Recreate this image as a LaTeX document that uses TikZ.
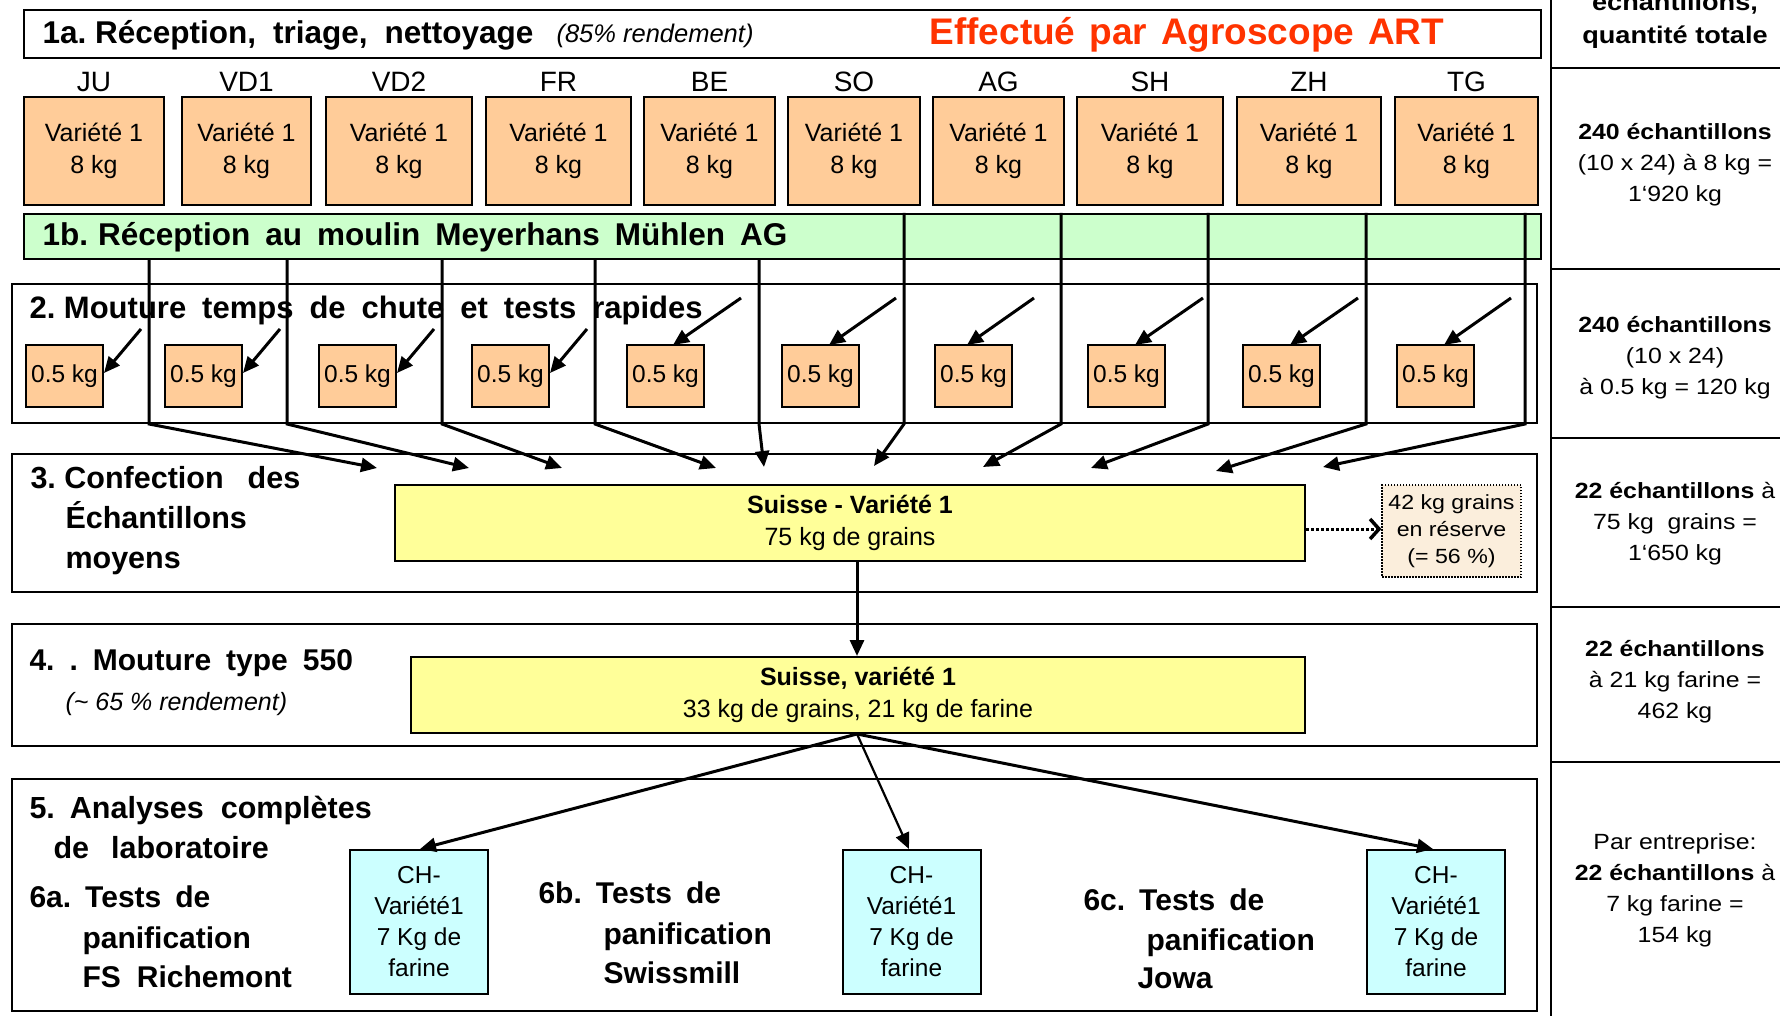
\documentclass[tikz,border=0pt]{standalone}
\usepackage{fontspec}
\setmainfont{Liberation Sans}
\newfontfamily\rfont{Liberation Sans}[WordSpace=1.36]
\newfontfamily\wfont{Liberation Sans}[FakeStretch=1.13]
\usetikzlibrary{arrows.meta}
\definecolor{orangeF}{HTML}{FFCC99}
\definecolor{greenF}{HTML}{CCFFCC}
\definecolor{yellowF}{HTML}{FFFF99}
\definecolor{cyanF}{HTML}{CCFFFF}
\definecolor{resF}{HTML}{FBEEDC}
\definecolor{redT}{HTML}{FF3300}
\newcommand\fsz[2]{\fontsize{#1}{#2}\selectfont}
\newcommand\mygap[1]{\hspace{#1pt}}
\begin{document}
\frenchspacing
\begin{tikzpicture}[x=1pt,y=-1pt,
  sect/.style={draw, line width=2pt, fill=white, inner sep=0pt, anchor=north west},
  obox/.style={draw, line width=2pt, fill=orangeF, inner sep=0pt, minimum height=108, align=center, font=\fsz{25}{32}},
  sbox/.style={draw, line width=1.8pt, fill=orangeF, inner sep=0pt, minimum width=77, minimum height=62, font=\fsz{24.5}{30}},
  ybox/.style={draw, line width=2pt, fill=yellowF, inner sep=0pt, minimum height=76, align=center, font=\fsz{25}{32}},
  cbox/.style={draw, line width=2pt, fill=cyanF, inner sep=0pt, minimum width=138, minimum height=144, align=center, font=\fsz{24.5}{31}},
  lab/.style={anchor=base, font=\fsz{28}{32}},
  ttl/.style={anchor=base west, font=\bfseries\fsz{30}{40}},
  rcol/.style={align=center, font=\wfont\fsz{22}{31}},
  carr/.style={line width=3pt, -{Triangle[length=16pt,width=14pt]}},
  sarr/.style={line width=3pt, -{Triangle[length=16pt,width=14pt]}},
]
\useasboundingbox (0,0) rectangle (1780,1016);
\clip (0,0) rectangle (1780,1016);
\fill[white] (0,0) rectangle (1780,1016);

% ---------- right column ----------
\draw[line width=2pt] (1551,0) -- (1551,1016);
\foreach \yy in {68,269,438,607,762} \draw[line width=2pt] (1551,\yy) -- (1780,\yy);
\node[anchor=base, font=\wfont\bfseries\fsz{24}{32}] (rh1) at (1675,11) {échantillons,};
\node[anchor=base, font=\wfont\bfseries\fsz{24}{32}] (rh2) at (1675,44) {quantité totale};
\node[rcol] (r1) at (1675,165) {\textbf{240 échantillons}\\(10 x 24) à 8 kg =\\1‘920 kg};
\node[rcol] (r2) at (1675,358) {\textbf{240 échantillons}\\(10 x 24)\\à 0.5 kg = 120 kg};
\node[rcol] (r3) at (1675,524) {\textbf{22 échantillons} à\\75 kg\ \ grains =\\1‘650 kg};
\node[rcol] (r4) at (1675,682) {\textbf{22 échantillons}\\à 21 kg farine =\\462 kg};
\node[rcol] (r5) at (1675,890) {Par entreprise:\\\textbf{22 échantillons} à\\7 kg farine =\\154 kg};

% ---------- 1a ----------
\node[sect, minimum width=1517, minimum height=48] (s1a) at (23,9) {};
\node[ttl, font=\bfseries\fsz{31.5}{40}] (t1a) at (39,44) {1a. Réception,\mygap{17}triage,\mygap{17}nettoyage};
\node[anchor=base west, font=\itshape\fsz{25.5}{30}] (t1ai) at (553,43) {(85\% rendement)};
\node[anchor=base west, font=\rfont\bfseries\fsz{37}{42}, text=redT] (t1ar) at (926,45) {Effectué par Agroscope ART};

% ---------- orange boxes ----------
\foreach \n/\cx/\w/\lb in {ju/94/140/JU, vda/246.5/129/VD1, vdb/399/146/VD2, fr/558.5/145/FR, be/709.5/131/BE, so/854/132/SO, ag/998.5/131/AG, sh/1150/146/SH, zh/1309/144/ZH, tg/1466.5/143/TG}{
  \node[obox, minimum width=\w] (o\n) at (\cx,151) {\raisebox{-2pt}{Variété 1}\\\raisebox{-2pt}{8 kg}};
  \node[lab] (l\n) at (\cx,92) {\lb};
}

% ---------- 1b ----------
\node[sect, fill=greenF, minimum width=1517, minimum height=45] (s1b) at (23,213) {};
\node[ttl, font=\bfseries\fsz{31.5}{40}] (t1b) at (39,246) {1b.\mygap{10}Réception\mygap{15}au\mygap{15}moulin\mygap{15}Meyerhans\mygap{15}Mühlen\mygap{15}AG};

% ---------- section boxes ----------
\node[sect, minimum width=1525, minimum height=139] (s2) at (11,283) {};
\node[sect, minimum width=1525, minimum height=138] (s3) at (11,453) {};
\node[sect, minimum width=1525, minimum height=122] (s4) at (11,623) {};
\node[sect, minimum width=1525, minimum height=232] (s5) at (11,778) {};

% ---------- section 2 ----------
\node[ttl, font=\bfseries\fsz{31}{40}] (t2) at (26,319) {2. Mouture\mygap{16}temps\mygap{16}de\mygap{16}chute\mygap{16}et\mygap{16}tests\mygap{16}rapides};
\foreach \i/\lx in {1/26,2/165,3/319,4/472,5/627,6/782,7/935,8/1088,9/1243,10/1397}{
  \node[sbox] (h\i) at (\lx+38.5,376) {\raisebox{-3pt}{0.5 kg}};
}
\foreach \i/\sx/\sy/\tx/\ty in {1/141/329/104/373, 2/280/329/243/373, 3/434/329/397/373, 4/587/329/550/373,
  5/741/298/673/345, 6/896/298/829/345, 7/1034/298/967/345, 8/1203/298/1135/345, 9/1358/298/1290/345, 10/1511/298/1444/345}{
  \coordinate (ha\i) at (\sx,\sy);
  \draw[sarr] (ha\i) -- (\tx,\ty);
}

% ---------- big connectors ----------
\foreach \i/\xx/\tx/\ty in {1/149/377/468, 2/287/469/468, 3/442/562/468, 4/595/716/468, 5/759/764/467}{
  \coordinate (ct\i) at (\xx,0 |- s1b.south);
  \coordinate (cb\i) at (\xx,0 |- s2.south);
  \coordinate (ce\i) at (\tx,\ty);
  \draw[carr] (ct\i) -- (cb\i) -- (ce\i);
}
\foreach \i/\xx/\tx/\ty in {6/904/874/466, 7/1061/983/467, 8/1208/1091/468, 9/1366/1216/471, 10/1525/1323/467}{
  \coordinate (ct\i) at (\xx,0 |- s1b.north);
  \coordinate (cb\i) at (\xx,0 |- s2.south);
  \coordinate (ce\i) at (\tx,\ty);
  \draw[carr] (ct\i) -- (cb\i) -- (ce\i);
}

% ---------- section 3 ----------
\node[ttl, font=\bfseries\fsz{30.5}{40}] (t3a) at (27,488) {3. Confection\mygap{24}des};
\node[ttl, font=\bfseries\fsz{30.5}{40}] (t3b) at (62,528) {Échantillons};
\node[ttl, font=\bfseries\fsz{30.5}{40}] (t3c) at (62,568) {moyens};
\node[ybox, minimum width=910] (y3) at (850,523) {\raisebox{-2pt}{\textbf{Suisse - Variété 1}}\\\raisebox{-2pt}{75 kg de grains}};
\node[draw, line width=1.2pt, dash pattern=on 1.5pt off 1.5pt, fill=resF, minimum width=139, minimum height=92, inner sep=0pt, align=center, font=\wfont\fsz{20.5}{27}] (res) at (1451.5,531) {42 kg grains\\en réserve\\(= 56 \%)};
\draw[line width=3pt, dash pattern=on 3pt off 2pt, -{Straight Barb[length=9pt,width=20pt,line width=3.5pt]}] (y3.east |- 0,529) -- (res.west |- 0,529);

% ---------- section 4 ----------
\node[ttl] (t4) at (26,670) {4.\mygap{15}.\mygap{15}Mouture\mygap{15}type\mygap{15}550};
\node[anchor=base west, font=\itshape\fsz{25}{30}] (t4i) at (62,710) {(\textasciitilde{} 65 \% rendement)};
\node[ybox, minimum width=894] (y4) at (858,695) {\textbf{Suisse, variété 1}\\33 kg de grains, 21 kg de farine};
\draw[carr] (857,0 |- y3.south) -- (857,0 |- y4.north);

% ---------- section 5 ----------
\node[ttl, font=\bfseries\fsz{30.5}{40}] (t5a) at (26,818) {5.\mygap{15}Analyses\mygap{17}complètes};
\node[ttl, font=\bfseries\fsz{30.5}{40}] (t5b) at (50,858) {de\mygap{22}laboratoire};
\node[ttl] (t6a1) at (26,907) {6a.\mygap{14}Tests\mygap{14}de};
\node[ttl] (t6a2) at (79,948) {panification};
\node[ttl] (t6a3) at (79,987) {FS\mygap{16}Richemont};
\node[ttl] (t6b1) at (535,903) {6b.\mygap{14}Tests\mygap{14}de};
\node[ttl] (t6b2) at (600,944) {panification};
\node[ttl] (t6b3) at (600,983) {Swissmill};
\node[ttl] (t6c1) at (1080,910) {6c.\mygap{14}Tests\mygap{14}de};
\node[ttl] (t6c2) at (1143,950) {panification};
\node[ttl] (t6c3) at (1134,988) {Jowa};
\node[cbox] (ca) at (419,922) {CH-\\Variété1\\7 Kg de\\farine};
\node[cbox] (cb) at (911.5,922) {CH-\\Variété1\\7 Kg de\\farine};
\node[cbox] (cc) at (1436,922) {CH-\\Variété1\\7 Kg de\\farine};
\coordinate (y4b) at (857,0 |- y4.south);
\draw[carr] (y4b) -- (420,0 |- ca.north);
\draw[carr, line width=2.2pt] (y4b) -- (909,0 |- cb.north);
\draw[carr] (y4b) -- (1433,0 |- cc.north);
\end{tikzpicture}
\end{document}
